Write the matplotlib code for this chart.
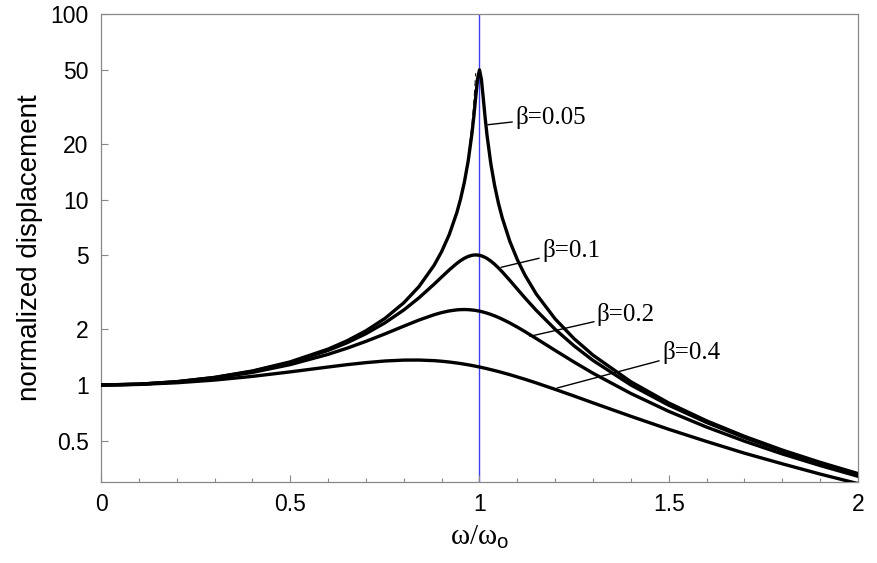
import matplotlib
matplotlib.use("Agg")
import matplotlib.pyplot as plt
from matplotlib.ticker import MultipleLocator, FixedLocator, NullLocator

# frequency ratio samples (omega / omega_o)
ratio = [0.0, 0.1, 0.2, 0.3, 0.4, 0.5, 0.6, 0.65, 0.7, 0.75, 0.8, 0.84, 0.88,
         0.9, 0.92, 0.94, 0.95, 0.96, 0.97, 0.98, 0.985, 0.99, 0.995, 1.0,
         1.005, 1.01, 1.015, 1.02, 1.03, 1.04, 1.05, 1.06, 1.08, 1.1, 1.12,
         1.15, 1.2, 1.25, 1.3, 1.4, 1.5, 1.6, 1.7, 1.8, 1.9, 2.0]

# normalized displacement
disp_005 = [1.0, 1.010, 1.042, 1.099, 1.190, 1.333, 1.562, 1.731, 1.960, 2.284,
            2.775, 3.391, 4.419, 5.240, 6.464, 8.481, 10.07, 12.39, 16.08, 22.63,
            28.01, 35.62, 44.92, 50.0, 44.52, 35.09, 27.47, 22.10, 15.56, 11.88,
            9.558, 7.974, 5.960, 4.736, 3.916, 3.093, 2.269, 1.776, 1.448, 1.041,
            0.800, 0.641, 0.529, 0.446, 0.383, 0.333]
disp_01 = [1.0, 1.010, 1.041, 1.097, 1.185, 1.322, 1.536, 1.689, 1.891, 2.162,
           2.538, 2.950, 3.495, 3.821, 4.172, 4.523, 4.683, 4.822, 4.931, 5.001,
           5.019, 5.025, 5.019, 5.0, 4.969, 4.926, 4.872, 4.809, 4.655, 4.476,
           4.279, 4.075, 3.668, 3.288, 2.950, 2.525, 1.995, 1.625, 1.356, 1.0,
           0.778, 0.628, 0.521, 0.441, 0.379, 0.330]
disp_02 = [1.0, 1.009, 1.038, 1.090, 1.169, 1.288, 1.463, 1.579, 1.719, 1.885,
           2.076, 2.239, 2.392, 2.457, 2.508, 2.541, 2.549, 2.552, 2.548, 2.538,
           2.531, 2.522, 2.512, 2.5, 2.487, 2.472, 2.456, 2.439, 2.401, 2.359,
           2.313, 2.264, 2.160, 2.051, 1.941, 1.780, 1.536, 1.329, 1.157, 0.900,
           0.721, 0.593, 0.498, 0.425, 0.368, 0.322]
disp_04 = [1.0, 1.007, 1.028, 1.063, 1.113, 1.177, 1.25, 1.287, 1.320, 1.347,
           1.362, 1.363, 1.353, 1.343, 1.330, 1.314, 1.305, 1.295, 1.285, 1.274,
           1.268, 1.262, 1.256, 1.25, 1.244, 1.237, 1.231, 1.224, 1.210, 1.196,
           1.182, 1.167, 1.137, 1.105, 1.074, 1.026, 0.947, 0.872, 0.801, 0.678,
           0.577, 0.496, 0.429, 0.376, 0.331, 0.294]

# undamped response, only below resonance (runs into the sharp peak)
ratio_free = ratio[:22]
disp_free = [1.0, 1.010, 1.042, 1.099, 1.190, 1.333, 1.563, 1.732, 1.961, 2.286,
             2.778, 3.397, 4.433, 5.263, 6.510, 8.591, 10.26, 12.76, 16.92, 25.25,
             33.59, 48.0]

labels = ["β=0.05", "β=0.1", "β=0.2", "β=0.4"]
# (point on curve, label position)
label_pts = [((1.022, 25.3), (1.094, 27.6)),
             ((1.057, 4.31), (1.165, 5.30)),
             ((1.133, 1.83), (1.310, 2.40)),
             ((1.205, 0.963), (1.482, 1.50))]

plt.rcParams['font.family'] = ['Liberation Sans', 'DejaVu Sans']
plt.rcParams['mathtext.fontset'] = 'custom'
plt.rcParams['mathtext.rm'] = 'Liberation Serif'
plt.rcParams['mathtext.sf'] = 'Liberation Sans'

fig = plt.figure(figsize=(8.77, 5.63), dpi=100)
ax = fig.add_axes([0.1152, 0.1439, 0.8631, 0.8312])

ax.axvline(1.0, color='#3f3ff2', lw=1.0, zorder=1)
ax.plot(ratio_free, disp_free, color='black', lw=0.7, dashes=(6, 4), zorder=2)
for ys in (disp_005, disp_01, disp_02, disp_04):
    ax.plot(ratio, ys, color='black', lw=2.4, zorder=3, solid_joinstyle='round')

for lab, (pt, tp) in zip(labels, label_pts):
    ax.annotate(lab, xy=pt, xytext=tp, textcoords='data', fontsize=18,
                family=['Liberation Serif', 'DejaVu Serif'], va='center', ha='left',
                arrowprops=dict(arrowstyle='-', color='black', lw=1.0,
                                shrinkA=0, shrinkB=0))

ax.set_yscale('log')
ax.set_xlim(0, 2)
ax.set_ylim(0.3, 100)
ax.yaxis.set_major_locator(FixedLocator([0.5, 1, 2, 5, 10, 20, 50, 100]))
ax.set_yticklabels(["0.5", "1", "2", "5", "10", "20", "50", "100"])
ax.yaxis.set_minor_locator(NullLocator())
ax.set_xticks([0, 0.5, 1, 1.5, 2])
ax.set_xticklabels(["0", "0.5", "1", "1.5", "2"])
ax.xaxis.set_minor_locator(MultipleLocator(0.1))

for s in ax.spines.values():
    s.set_color('#888888')
    s.set_linewidth(0.9)
ax.tick_params(which='both', direction='in', color='#888888', top=False, right=False,
               labelsize=16.5)
ax.tick_params(which='major', length=5, width=0.8)
ax.tick_params(which='minor', length=3, width=0.8)
ax.tick_params(axis='x', pad=8)
ax.tick_params(axis='y', pad=9)

ax.set_xlabel(r'$\mathrm{ω/ω}_{\mathsf{o}}$', fontsize=21, labelpad=5)
ax.set_ylabel('normalized displacement', fontsize=20, labelpad=5)

fig.savefig('out.png', dpi=100)
